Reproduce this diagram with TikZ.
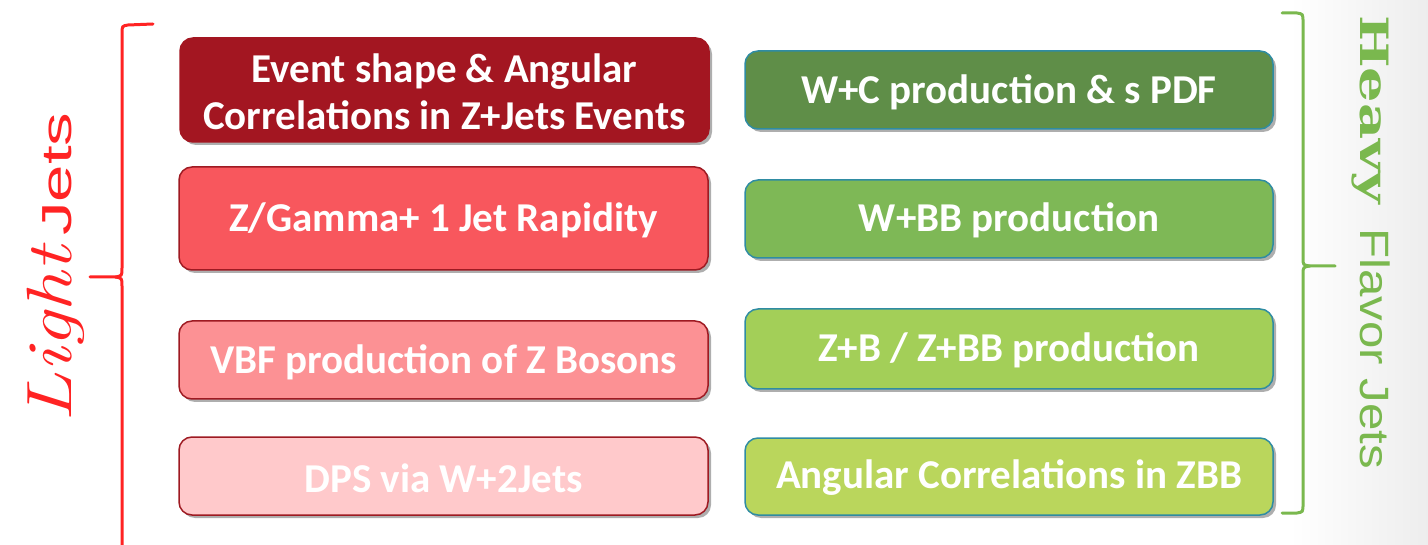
\documentclass[tikz,border=0pt]{standalone}
\usepackage{fontspec}
\setmainfont{Carlito}
\newfontfamily\arialf{Liberation Sans}
\newfontfamily\slabf{DejaVu Serif}
\newfontfamily\lmitf{Latin Modern Roman}
\usetikzlibrary{shadows}
\definecolor{rA}{HTML}{A31621}
\definecolor{rB}{HTML}{F8575D}
\definecolor{rC}{HTML}{FC9194}
\definecolor{rD}{HTML}{FFC9CB}
\definecolor{rEdge}{HTML}{9E1A22}
\definecolor{gA}{HTML}{5F8E48}
\definecolor{gB}{HTML}{7EB856}
\definecolor{gC}{HTML}{A3CF58}
\definecolor{gD}{HTML}{BAD65C}
\definecolor{gEdge}{HTML}{2F8CA3}
\definecolor{braceR}{HTML}{FF2323}
\definecolor{braceG}{HTML}{7AB84E}
\begin{document}
\begin{tikzpicture}[x=1pt,y=-1pt,
  box/.style={rounded corners=13pt, line width=1.5pt,
    drop shadow={shadow xshift=3pt, shadow yshift=-3pt, opacity=0.45, fill=black!70}},
  lbox/.style={box, draw=rEdge},
  rbox/.style={box, draw=gEdge},
  boxtext/.style={text=white, font=\fontsize{41}{47}\selectfont\bfseries, align=center}]
\useasboundingbox (0,0) rectangle (1428,545);
\shade[left color=white, right color=black!7] (1290,0) rectangle (1428,545);

% left column
\filldraw[lbox, fill=rA, draw=rA] (180,38) rectangle (709,142);
\node[boxtext] (l1) at (444.5,92) {Event shape \& Angular\\Correlations in Z+Jets Events};
\filldraw[lbox, fill=rB] (179,167) rectangle (708,270);
\node[boxtext] (l2) at (443.5,220) {Z/Gamma+ 1 Jet Rapidity};
\filldraw[lbox, fill=rC] (179,321) rectangle (708,399);
\node[boxtext] (l3) at (443.5,362) {VBF production of Z Bosons};
\filldraw[lbox, fill=rD] (179,437) rectangle (708,515);
\node[boxtext] (l4) at (443.5,478) {DPS via W+2Jets};

% right column
\filldraw[rbox, fill=gA] (745,51) rectangle (1273,129);
\node[boxtext] (r1) at (1009,92) {W+C production \& s PDF};
\filldraw[rbox, fill=gB] (745,180) rectangle (1273,258);
\node[boxtext] (r2) at (1009,220) {W+BB production};
\filldraw[rbox, fill=gC] (745,309) rectangle (1273,389);
\node[boxtext] (r3) at (1009,350) {Z+B / Z+BB production};
\filldraw[rbox, fill=gD] (745,438) rectangle (1273,515);
\node[boxtext] (r4) at (1009,478) {Angular Correlations in ZBB};

% left brace
\draw[braceR, line width=3pt, line cap=round]
  (153,24) -- (128,25) .. controls (122,26) .. (122,34) -- (122,268)
  .. controls (122,276) .. (115,277) -- (90,277);
\draw[braceR, line width=3pt]
  (115,277) .. controls (122,278) .. (122,286) -- (122,548);
\node[braceR, rotate=90, anchor=base, inner sep=0pt] (lt) at (71,267.5)
  {\scalebox{1.26}[1]{\lmitf\itshape\fontsize{64}{64}\selectfont Light}\kern10pt\scalebox{1.6}[1]{\arialf\fontsize{42}{42}\selectfont Jets}};

% right brace
\draw[braceG, line width=3pt, line cap=round]
  (1282,13) -- (1297,13) .. controls (1303,14) .. (1303,22) -- (1303,258)
  .. controls (1303,265) .. (1310,266) -- (1335,266);
\draw[braceG, line width=3pt, line cap=round]
  (1310,266) .. controls (1303,267) .. (1303,275) -- (1303,504)
  .. controls (1303,512) .. (1297,513) -- (1282,513);
\node[braceG, rotate=-90, anchor=base, inner sep=0pt] (rt) at (1360,242)
  {\scalebox{1.43}[1]{\slabf\bfseries\fontsize{39}{39}\selectfont Heavy}\kern24pt\scalebox{1.2}[1]{\arialf\fontsize{41}{41}\selectfont Flavor Jets}};
\end{tikzpicture}
\end{document}
